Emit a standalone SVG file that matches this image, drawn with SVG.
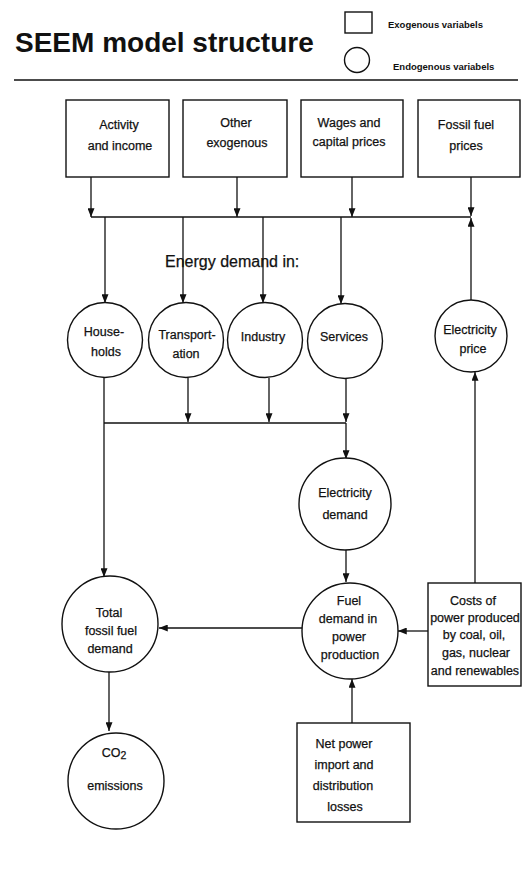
<svg xmlns="http://www.w3.org/2000/svg" width="531" height="871" viewBox="0 0 531 871">
<defs>
<style>
text{font-family:"Liberation Sans",Arial,sans-serif;fill:#111;}
.t{font-size:12.5px;text-anchor:middle;stroke:#111;stroke-width:0.25;}
.box{fill:#fff;stroke:#111;stroke-width:1.4;}
.node{fill:#fff;stroke:#111;stroke-width:1.4;}
.ln{fill:none;stroke:#111;stroke-width:1.3;}
.ar{fill:none;stroke:#111;stroke-width:1.3;marker-end:url(#ah);}
</style>
<marker id="ah" viewBox="0 0 10 8" refX="10" refY="4" markerWidth="9" markerHeight="7" markerUnits="userSpaceOnUse" orient="auto">
<path d="M0,0 L10,4 L0,8 Z" fill="#111"/>
</marker>
</defs>
<rect width="531" height="871" fill="#fff"/>

<g id="header">
<text x="15" y="52" style="font-size:28px;font-weight:bold">SEEM model structure</text>
<rect x="345" y="12" width="27" height="21" class="box"/>
<circle cx="357" cy="60" r="12.5" class="node"/>
<text x="388" y="28" style="font-size:9.5px;font-weight:bold">Exogenous variabels</text>
<text x="393" y="70" style="font-size:9.5px;font-weight:bold">Endogenous variabels</text>
<line x1="14" y1="80" x2="518" y2="80" stroke="#111" stroke-width="1.6"/>
</g>

<text x="165" y="267" style="font-size:16px;stroke:#111;stroke-width:0.25">Energy demand in:</text>

<g id="connectors">
<!-- top boxes to bus -->
<line x1="91" y1="177" x2="91" y2="217" class="ar"/>
<line x1="237" y1="177" x2="237" y2="217" class="ar"/>
<line x1="352" y1="177" x2="352" y2="217" class="ar"/>
<line x1="471" y1="177" x2="471" y2="216" class="ar"/>
<line x1="91" y1="217" x2="471" y2="217" class="ln"/>
<!-- bus to sectors -->
<line x1="105" y1="217" x2="105" y2="303" class="ar"/>
<line x1="183" y1="217" x2="183" y2="303" class="ar"/>
<line x1="263" y1="217" x2="263" y2="303" class="ar"/>
<line x1="341" y1="217" x2="341" y2="304" class="ar"/>
<!-- electricity price up to bus -->
<line x1="471" y1="300" x2="471" y2="218" class="ar"/>
<!-- sectors to lower bus -->
<line x1="188" y1="378" x2="188" y2="422" class="ar"/>
<line x1="269" y1="378" x2="269" y2="422" class="ar"/>
<line x1="346" y1="379" x2="346" y2="422" class="ar"/>
<line x1="104" y1="423" x2="346" y2="423" class="ln"/>
<!-- households to total fossil -->
<line x1="104" y1="378" x2="104" y2="577" class="ar"/>
<!-- lower bus to electricity demand -->
<line x1="346" y1="423" x2="346" y2="459" class="ar"/>
<!-- electricity demand to fuel demand -->
<line x1="346" y1="550" x2="346" y2="582" class="ar"/>
<!-- fuel demand to total fossil -->
<line x1="302" y1="628" x2="159" y2="628" class="ar"/>
<!-- costs to fuel demand -->
<line x1="428" y1="631" x2="398" y2="631" class="ar"/>
<!-- costs up to electricity price -->
<line x1="475" y1="583" x2="475" y2="372" class="ar"/>
<!-- net power to fuel demand -->
<line x1="352" y1="723" x2="352" y2="679" class="ar"/>
<!-- total fossil to CO2 -->
<line x1="109" y1="672" x2="109" y2="731" class="ar"/>
</g>

<g id="n-activity">
<rect x="66" y="100" width="103" height="77" class="box"/>
<text class="t" x="119" y="129">Activity</text>
<text class="t" x="120" y="150">and income</text>
</g>
<g id="n-other">
<rect x="183" y="100" width="104" height="77" class="box"/>
<text class="t" x="236" y="127">Other</text>
<text class="t" x="237" y="147">exogenous</text>
</g>
<g id="n-wages">
<rect x="301" y="100" width="102" height="77" class="box"/>
<text class="t" x="349" y="127">Wages and</text>
<text class="t" x="349" y="146">capital prices</text>
</g>
<g id="n-fossilprices">
<rect x="418" y="100" width="102" height="77" class="box"/>
<text class="t" x="466" y="129">Fossil fuel</text>
<text class="t" x="466" y="150">prices</text>
</g>

<g id="n-households">
<circle cx="105" cy="340" r="37.5" class="node"/>
<text class="t" x="104" y="336">House-</text>
<text class="t" x="106" y="356">holds</text>
</g>
<g id="n-transport">
<circle cx="186" cy="340" r="37.5" class="node"/>
<text class="t" x="187" y="339">Transport-</text>
<text class="t" x="186" y="358">ation</text>
</g>
<g id="n-industry">
<circle cx="265" cy="340" r="37.5" class="node"/>
<text class="t" x="263" y="341">Industry</text>
</g>
<g id="n-services">
<circle cx="345" cy="341" r="37.5" class="node"/>
<text class="t" x="344" y="341">Services</text>
</g>
<g id="n-elprice">
<circle cx="471" cy="336" r="36" class="node"/>
<text class="t" x="470" y="334">Electricity</text>
<text class="t" x="473" y="353">price</text>
</g>
<g id="n-eldemand">
<circle cx="345" cy="504" r="46" class="node"/>
<text class="t" x="345" y="497">Electricity</text>
<text class="t" x="345" y="519">demand</text>
</g>
<g id="n-fueldemand">
<circle cx="350" cy="631" r="48" class="node"/>
<text class="t" x="349" y="605">Fuel</text>
<text class="t" x="348" y="623">demand in</text>
<text class="t" x="349" y="641">power</text>
<text class="t" x="350" y="659">production</text>
</g>
<g id="n-costs">
<rect x="428" y="583" width="93" height="103" class="box"/>
<text class="t" x="473" y="605">Costs of</text>
<text class="t" x="475" y="622">power produced</text>
<text class="t" x="474" y="639">by coal, oil,</text>
<text class="t" x="476" y="657">gas, nuclear</text>
<text class="t" x="475" y="675">and renewables</text>
</g>
<g id="n-total">
<circle cx="110" cy="624" r="48" class="node"/>
<text class="t" x="109" y="617">Total</text>
<text class="t" x="111" y="635">fossil fuel</text>
<text class="t" x="110" y="653">demand</text>
</g>
<g id="n-co2">
<circle cx="116" cy="781" r="48" class="node"/>
<text class="t" x="114" y="757">CO<tspan style="font-size:10.5px" dy="2">2</tspan></text>
<text class="t" x="115" y="790">emissions</text>
</g>
<g id="n-netpower">
<rect x="297" y="723" width="113" height="99" class="box"/>
<text class="t" x="344" y="748">Net power</text>
<text class="t" x="344" y="769">import and</text>
<text class="t" x="343" y="790">distribution</text>
<text class="t" x="345" y="811">losses</text>
</g>
</svg>
